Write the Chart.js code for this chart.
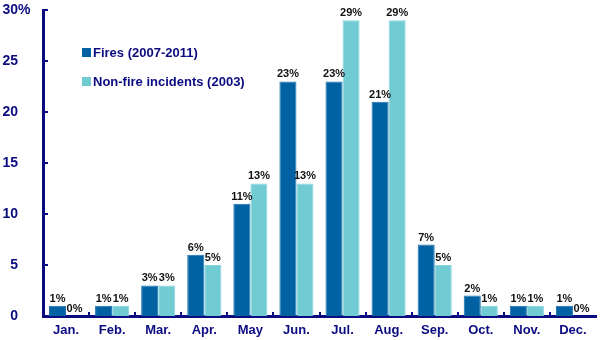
<!DOCTYPE html>
<html>
<head>
<meta charset="utf-8">
<script src="https://cdn.jsdelivr.net/npm/chart.js@4.4.1/dist/chart.umd.min.js"></script>
<style>
  html, body { margin: 0; padding: 0; background: #fff; }
  #wrap { width: 600px; height: 340px; position: relative; }
</style>
</head>
<body>
<div id="wrap"><canvas id="c" width="600" height="340"></canvas></div>
<script>
// Monthly share of fires vs. non-fire incidents (percent)
const months = ['Jan.', 'Feb.', 'Mar.', 'Apr.', 'May', 'Jun.', 'Jul.', 'Aug.', 'Sep.', 'Oct.', 'Nov.', 'Dec.'];
const fires = [1, 1, 3, 6, 11, 23, 23, 21, 7, 2, 1, 1];
const nonFire = [0, 1, 3, 5, 13, 13, 29, 29, 5, 1, 1, 0];
const yTicks = [0, 5, 10, 15, 20, 25, 30];

const NAVY = '#0b0b80';
const FONT = '"Liberation Sans", Arial, sans-serif';

// Value labels above every bar
const valueLabels = {
  id: 'valueLabels',
  afterDatasetsDraw(chart) {
    const ctx = chart.ctx;
    ctx.save();
    ctx.font = 'bold 11px ' + FONT;
    ctx.fillStyle = '#111';
    ctx.textAlign = 'center';
    ctx.textBaseline = 'alphabetic';
    chart.data.datasets.forEach((ds, i) => {
      chart.getDatasetMeta(i).data.forEach((bar, j) => {
        ctx.fillText(ds.data[j] + '%', bar.x, bar.y - 4);
      });
    });
    ctx.restore();
  }
};

// Axis tick marks drawn inside the plot, "%" after the top label, and the legend
const decorations = {
  id: 'decorations',
  afterDraw(chart) {
    const ctx = chart.ctx;
    const area = chart.chartArea;
    const y = chart.scales.y;
    const x = chart.scales.x;
    ctx.save();
    ctx.strokeStyle = NAVY;
    ctx.lineWidth = 2;
    yTicks.forEach(v => {
      const py = Math.round(y.getPixelForValue(v));
      ctx.beginPath();
      ctx.moveTo(area.left, py);
      ctx.lineTo(area.left + 5, py);
      ctx.stroke();
    });
    for (let i = 1; i < months.length; i++) {
      const px = Math.round((x.getPixelForValue(i - 1) + x.getPixelForValue(i)) / 2);
      ctx.beginPath();
      ctx.moveTo(px, area.bottom);
      ctx.lineTo(px, area.bottom - 4);
      ctx.stroke();
    }
    // percent sign after the top tick label
    ctx.font = 'bold 14px ' + FONT;
    ctx.fillStyle = NAVY;
    ctx.textBaseline = 'middle';
    ctx.textAlign = 'left';
    ctx.fillText('%', 18, y.getPixelForValue(30));

    // legend
    ctx.font = 'bold 13px ' + FONT;
    ctx.textBaseline = 'alphabetic';
    chart.data.datasets.forEach((ds, i) => {
      const top = 48 + i * 29;
      ctx.fillStyle = ds.backgroundColor;
      ctx.fillRect(82, top, 9, 9);
      ctx.fillStyle = NAVY;
      ctx.fillText(ds.label, 93, top + 9);
    });
    ctx.restore();
  }
};

new Chart(document.getElementById('c'), {
  type: 'bar',
  data: {
    labels: months,
    datasets: [
      { label: 'Fires (2007-2011)', data: fires, backgroundColor: '#0062a3',
        borderColor: '#1a6fae', borderWidth: 1, categoryPercentage: 0.74, barPercentage: 1 },
      { label: 'Non-fire incidents (2003)', data: nonFire, backgroundColor: '#71cbd3',
        borderColor: '#86d5dc', borderWidth: 1, categoryPercentage: 0.74, barPercentage: 1 }
    ]
  },
  options: {
    responsive: false,
    animation: false,
    devicePixelRatio: 1,
    layout: { padding: { top: 10, right: 4, left: 0, bottom: 0 } },
    plugins: { legend: { display: false }, tooltip: { enabled: false } },
    scales: {
      x: {
        grid: { display: false, drawTicks: false },
        border: { display: true, color: NAVY, width: 3 },
        ticks: { color: NAVY, font: { family: FONT, size: 13, weight: 'bold' }, padding: 7,
                 maxRotation: 0 },
        afterFit(s) { s.height = 24; s.paddingLeft = 0; s.paddingRight = 0; }
      },
      y: {
        min: 0, max: 30,
        afterBuildTicks(s) { s.ticks = yTicks.map(v => ({ value: v })); },
        grid: { display: false, drawTicks: false },
        border: { display: true, color: NAVY, width: 3 },
        ticks: { color: NAVY, font: { family: FONT, size: 14, weight: 'bold' }, padding: 25,
                 callback: v => String(v) },
        afterFit(s) { s.width = 43; s.paddingTop = 0; s.paddingBottom = 0; }
      }
    }
  },
  plugins: [valueLabels, decorations]
});
</script>
</body>
</html>
